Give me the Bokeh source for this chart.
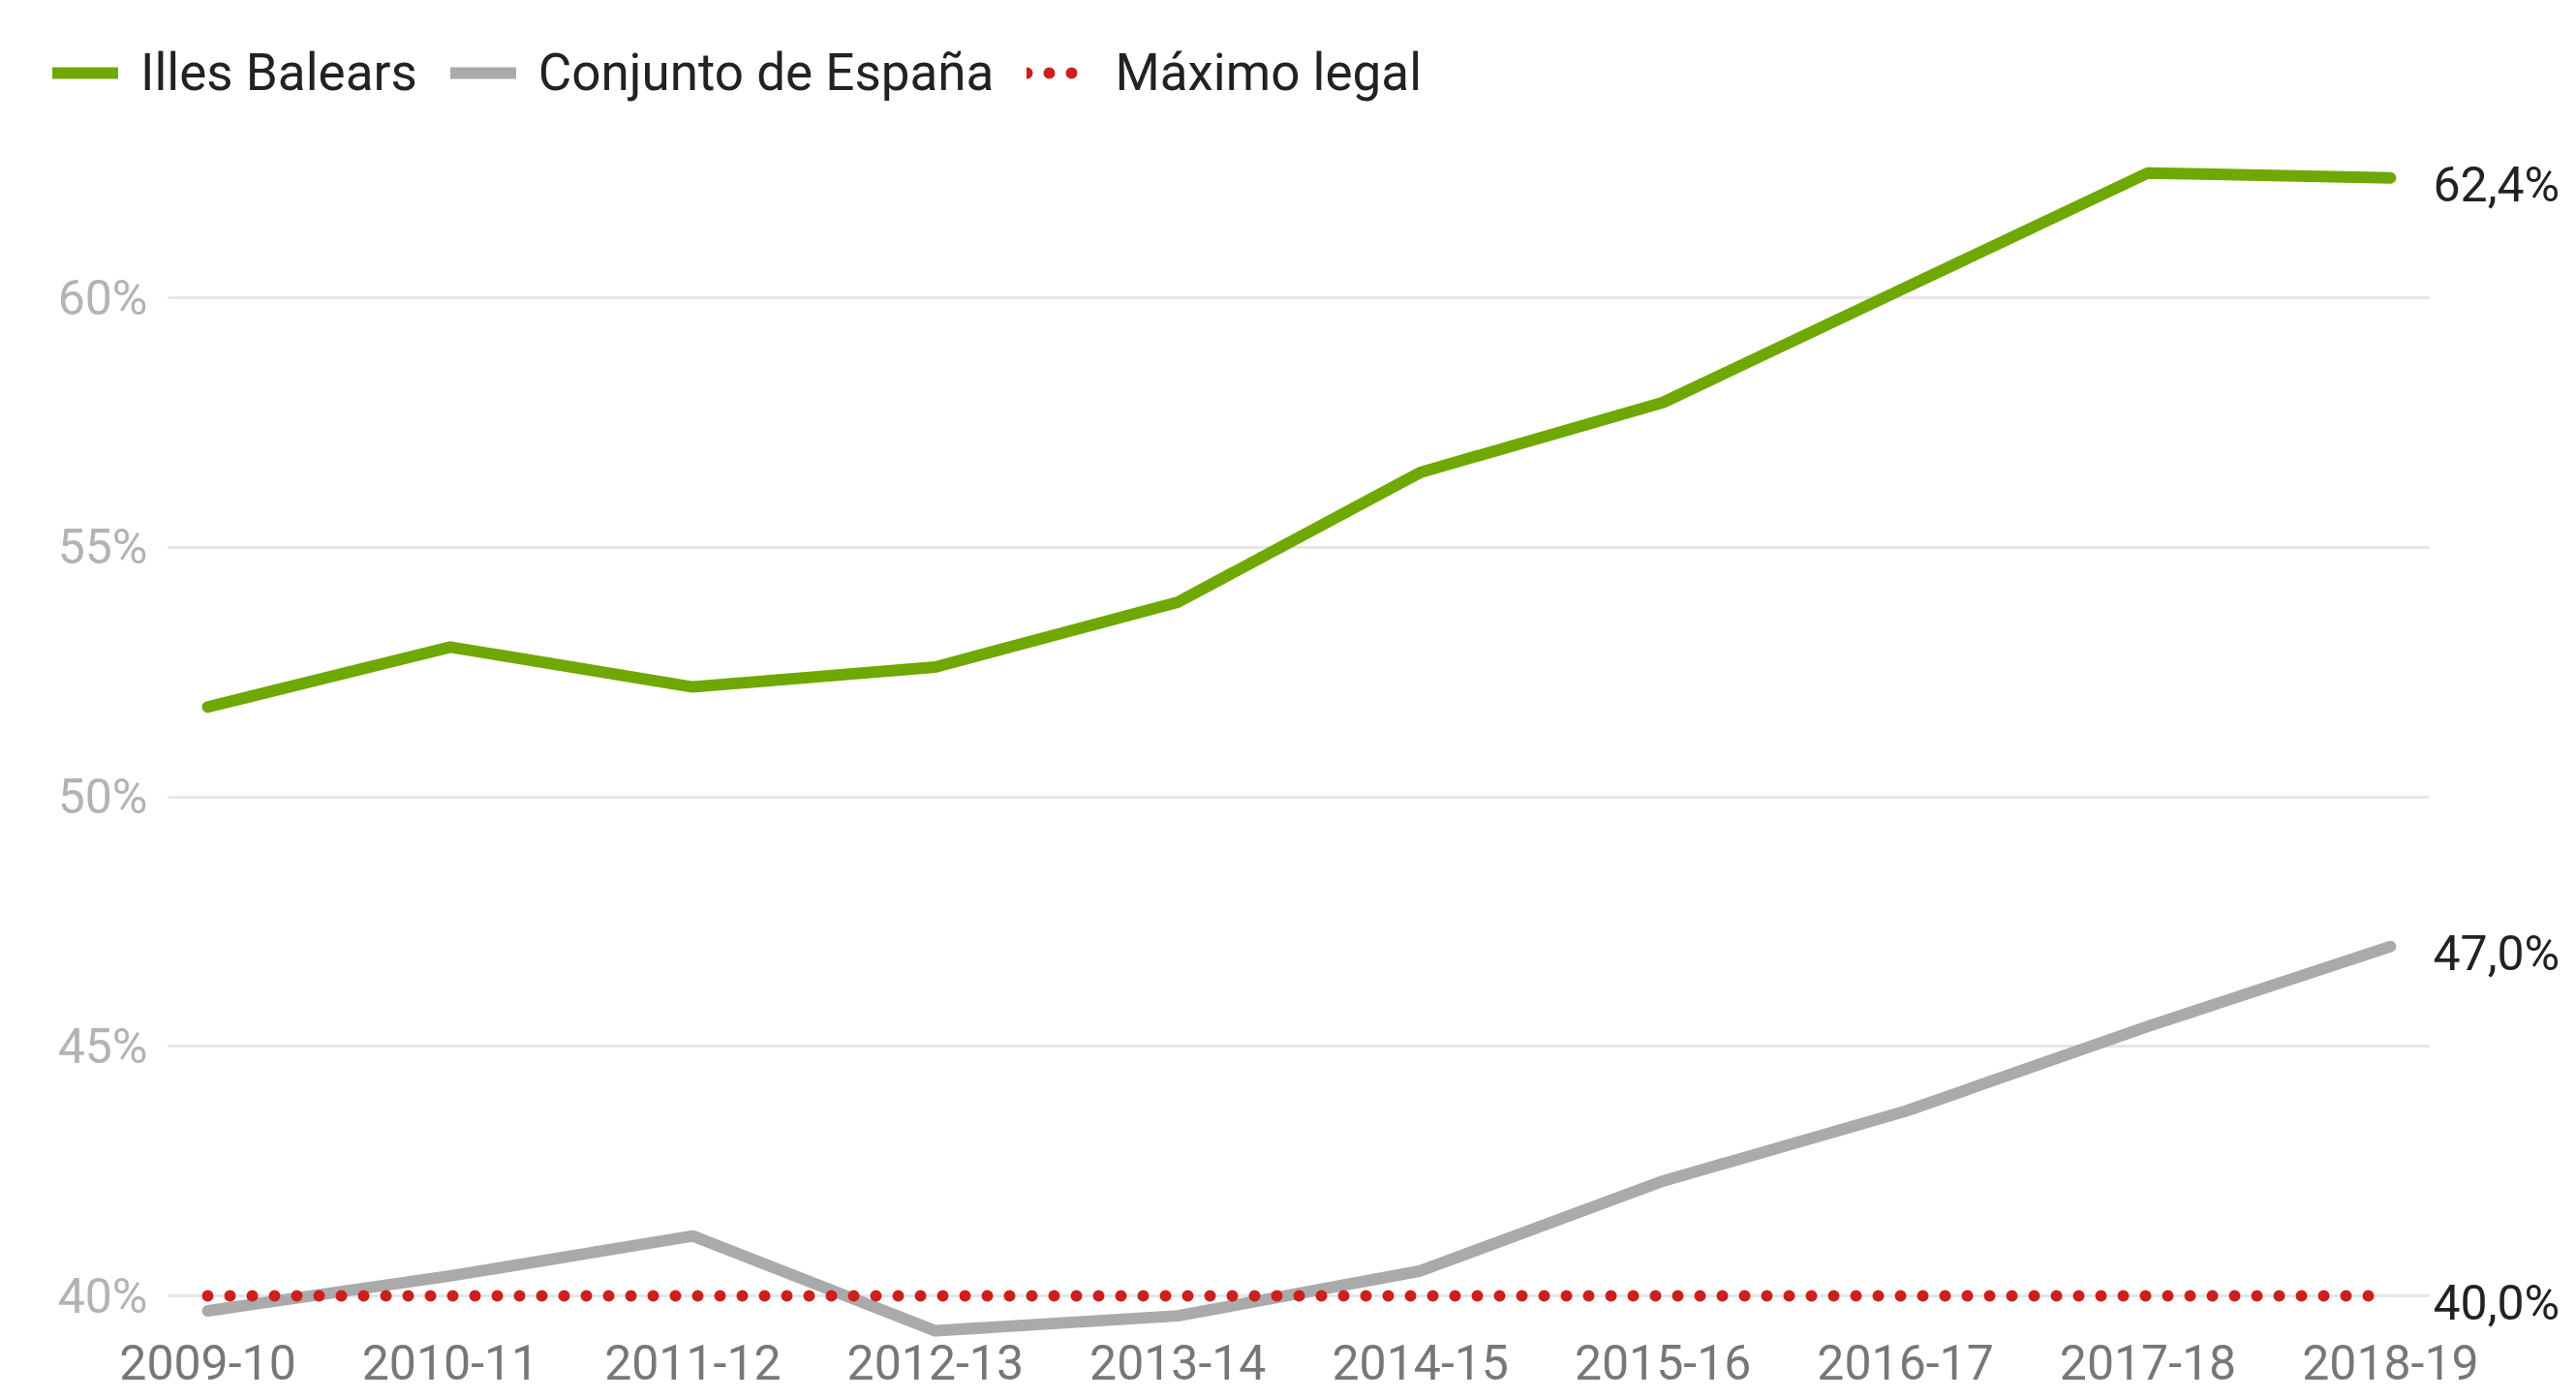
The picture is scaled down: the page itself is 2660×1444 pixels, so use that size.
from bokeh.plotting import figure
from bokeh.models import Range1d, FixedTicker, PrintfTickFormatter, Legend, Label
from bokeh.embed import file_html
from bokeh.resources import INLINE

# ---- data ----
seasons = ["2009-10", "2010-11", "2011-12", "2012-13", "2013-14",
           "2014-15", "2015-16", "2016-17", "2017-18", "2018-19"]
illes_balears = [51.8, 53.0, 52.2, 52.6, 53.9, 56.5, 57.9, 60.2, 62.5, 62.4]
conjunto_espana = [39.7, 40.4, 41.2, 39.3, 39.6, 40.5, 42.3, 43.7, 45.4, 47.0]
maximo_legal = [40.0, 40.0, 40.0, 40.0, 40.0, 40.0, 40.0, 40.0, 40.0, 40.0]
y_ticks = [40, 45, 50, 55, 60]

xs = list(range(len(seasons)))

FONT = "Roboto"
GREEN = "#6ea800"
GREY = "#aaaaaa"
RED = "#cc1f1f"

p = figure(width=2652, height=1436, output_backend="svg", toolbar_location=None,
           x_range=Range1d(-0.639, 9.735), y_range=Range1d(39.069, 65.102),
           min_border_left=54, min_border_right=0, min_border_top=44,
           min_border_bottom=50)
p.outline_line_color = None
p.background_fill_color = "white"
p.border_fill_color = "white"

# y axis (labels drawn just left of where the grid lines start)
p.yaxis.ticker = FixedTicker(ticks=y_ticks)
p.yaxis.formatter = PrintfTickFormatter(format="%d%%")
p.yaxis.axis_line_color = None
p.yaxis.major_tick_line_color = None
p.yaxis.minor_tick_line_color = None
p.yaxis.major_label_text_font = FONT
p.yaxis.major_label_text_font_size = "50px"
p.yaxis.major_label_text_color = "#b3b3b3"
p.yaxis.major_label_standoff = -104

p.ygrid.ticker = FixedTicker(ticks=y_ticks)
p.ygrid.grid_line_color = "#e6e6e6"
p.ygrid.grid_line_width = 3
p.ygrid.cross_bounds = (-0.164, 9.160)
p.xgrid.grid_line_color = None

# x axis
p.xaxis.ticker = FixedTicker(ticks=xs)
p.xaxis.major_label_overrides = {i: s for i, s in zip(xs, seasons)}
p.xaxis.axis_line_color = None
p.xaxis.major_tick_line_color = None
p.xaxis.minor_tick_line_color = None
p.xaxis.major_label_text_font = FONT
p.xaxis.major_label_text_font_size = "50px"
p.xaxis.major_label_text_color = "#777777"
p.xaxis.major_label_standoff = -4

# lines
r_grey = p.line(xs, conjunto_espana, line_color=GREY, line_width=12,
                line_cap="round", line_join="round")
r_red = p.line(xs, maximo_legal, line_color=RED, line_width=12,
               line_dash="0 23", line_cap="round")
r_green = p.line(xs, illes_balears, line_color=GREEN, line_width=12,
                 line_cap="round", line_join="round")

legend = Legend(items=[("Illes Balears", [r_green]),
                       ("Conjunto de España", [r_grey]),
                       ("Máximo legal", [r_red])],
                orientation="horizontal", location="top_left",
                label_text_font=FONT, label_text_font_size="53px",
                label_text_color="#222222",
                glyph_width=68, glyph_height=54, label_height=54,
                label_standoff=23, spacing=34, padding=0, margin=0,
                border_line_color=None, background_fill_alpha=0)
p.add_layout(legend, "center")

# end labels
for series in (illes_balears, conjunto_espana, maximo_legal):
    v = series[-1]
    txt = f"{v:.1f}".replace(".", ",") + "%"
    p.add_layout(Label(x=xs[-1], y=v, x_offset=44, y_offset=-7, text=txt,
                       text_font=FONT, text_font_size="50px",
                       text_color="#222222", text_baseline="middle",
                       text_align="left"))

open("out.html", "w").write(file_html(p, INLINE))
